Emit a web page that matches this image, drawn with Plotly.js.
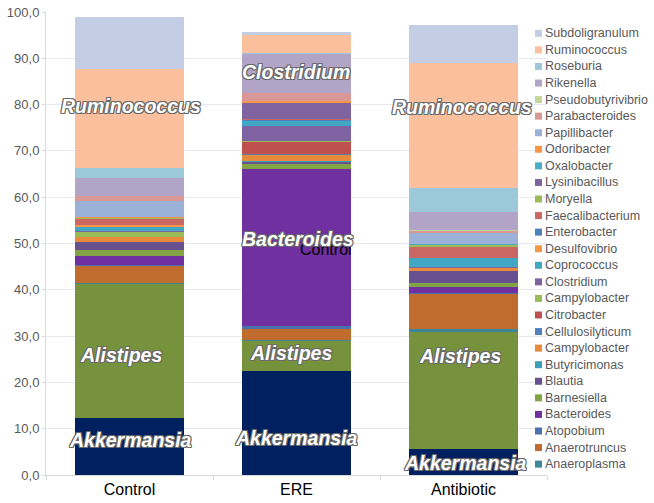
<!DOCTYPE html>
<html>
<head>
<meta charset="utf-8">
<script src="https://cdn.plot.ly/plotly-3.0.1.min.js"></script>
<style>html,body{margin:0;padding:0;background:#fff;}#chart{width:654px;height:503px;}</style>
</head>
<body>
<div id="chart"></div>
<script>
// Categories
const groups = ['Control', 'ERE', 'Antibiotic'];
const yTicks = [0, 10, 20, 30, 40, 50, 60, 70, 80, 90, 100];

// Series values [Control, ERE, Antibiotic] (percent), stacked bottom -> top
const akkermansia        = [12.4, 22.5, 5.6];
const alistipes          = [28.8, 6.5, 25.2];
const anaeroplasma       = [0.3, 0.1, 0.7];
const anaerotruncus      = [3.7, 2.5, 7.5];
const atopobium          = [0.2, 0.5, 0.4];
const bacteroides        = [1.9, 33.9, 1.1];
const barnesiella        = [1.4, 1.1, 0.9];
const blautia            = [1.6, 0.6, 2.7];
const butyricimonas      = [0.1, 0.1, 0.0];
const campylobacterO     = [0.9, 1.4, 0.6];
const cellulosilyticum   = [0.1, 0.2, 0.0];
const citrobacter        = [0.1, 2.5, 0.05];
const campylobacterG     = [0.9, 0.2, 0.05];
const clostridium        = [0.2, 3.2, 0.1];
const coprococcus        = [0.9, 1.1, 1.9];
const desulfovibrio      = [0.4, 0.1, 0.05];
const enterobacter       = [0.1, 0.1, 0.05];
const faecalibacterium   = [1.3, 0.2, 2.3];
const moryella           = [0.2, 0.0, 0.5];
const lysinibacillus     = [0.05, 3.6, 0.05];
const oxalobacter        = [0.05, 0.0, 0.05];
const odoribacter        = [0.05, 0.3, 0.05];
const papillibacter      = [3.5, 0.0, 2.5];
const parabacteroides    = [1.1, 1.7, 0.3];
const pseudobutyrivibrio = [0.1, 0.0, 0.2];
const rikenella          = [3.8, 8.6, 4.0];
const roseburia          = [2.1, 0.1, 5.2];
const ruminococcus       = [21.5, 3.9, 27.0];
const subdoligranulum    = [11.1, 0.7, 8.1];

// Series names (bottom -> top), values and colours
const seriesNames = ['Akkermansia','Alistipes','Anaeroplasma','Anaerotruncus','Atopobium','Bacteroides','Barnesiella','Blautia','Butyricimonas','Campylobacter','Cellulosilyticum','Citrobacter','Campylobacter','Clostridium','Coprococcus','Desulfovibrio','Enterobacter','Faecalibacterium','Moryella','Lysinibacillus','Oxalobacter','Odoribacter','Papillibacter','Parabacteroides','Pseudobutyrivibrio','Rikenella','Roseburia','Ruminococcus','Subdoligranulum'];
const seriesValues = [akkermansia, alistipes, anaeroplasma, anaerotruncus, atopobium, bacteroides, barnesiella, blautia, butyricimonas, campylobacterO, cellulosilyticum, citrobacter, campylobacterG, clostridium, coprococcus, desulfovibrio, enterobacter, faecalibacterium, moryella, lysinibacillus, oxalobacter, odoribacter, papillibacter, parabacteroides, pseudobutyrivibrio, rikenella, roseburia, ruminococcus, subdoligranulum];
const seriesColors = ['#00205F','#76923C','#3A8799','#BF6C2E','#4A70AD','#7030A0','#82A444','#69518F','#3AA0B8','#E88A3C','#4F81BD','#C0504D','#9BBB59','#7F62A1','#40A8C4','#F79646','#4F81BD','#CB6763','#9BBB59','#8064A2','#4BACC6','#F79646','#9BB0D6','#D99795','#C4D79B','#B2A4C6','#9CC9DA','#FAC09E','#C3CDE3'];
const legendStart = 2; // legend lists Anaeroplasma .. Subdoligranulum

// Bar labels
const labelTexts = ['Ruminococcus','Alistipes','Akkermansia','Clostridium','Bacteroides','Alistipes','Akkermansia','Ruminococcus','Alistipes','Akkermansia'];
const labelGroups = [0,0,0,1,1,1,1,2,2,2];
const labelY = [79.7, 25.9, 7.6, 87.0, 51.0, 26.4, 7.9, 79.5, 25.6, 2.7];
const labelShift = [1, -9, 1, -1, 1, -6, 0, -2, -4, 2];

const traces = seriesNames.map((name, i) => ({
  type: 'bar',
  name: name,
  x: groups,
  y: seriesValues[i],
  marker: {color: seriesColors[i], line: {width: 0}},
  hoverinfo: 'skip',
  showlegend: false
}));

// geometry helpers (paper coordinates)
const W = 654, H = 503, mL = 46, mR = 107, mT = 12, mB = 28;
const pw = W - mL - mR, ph = H - mT - mB;
const px2x = px => (px - mL) / pw;
const py2y = py => (H - mB - py) / ph;

const annotations = [];
const shapes = [];

// stray text behind the ERE label
annotations.push({
  x: 1, y: 48.6, xref: 'x', yref: 'y', xshift: 29, showarrow: false,
  text: 'Control', font: {family: 'Liberation Sans, Arial, sans-serif', size: 16, color: '#000'}
});

const shadow = '-1px -1px 0 #6a6a6a, 1px -1px 0 #6a6a6a, -1px 1px 0 #6a6a6a, 1px 1px 0 #6a6a6a, 0 1px 0 #6a6a6a, 0 -1px 0 #6a6a6a, 1px 0 0 #6a6a6a, -1px 0 0 #6a6a6a';
labelTexts.forEach((t, i) => {
  annotations.push({
    x: labelGroups[i], y: labelY[i], xref: 'x', yref: 'y', xshift: labelShift[i],
    showarrow: false, text: t,
    font: {family: 'Liberation Sans, Arial, sans-serif', size: 19.5, color: '#ffffff', weight: 'bold', style: 'italic', shadow: shadow}
  });
});

// manual legend (top item = last series)
const legendIdx = [];
for (let i = seriesNames.length - 1; i >= legendStart; i--) legendIdx.push(i);
legendIdx.forEach((si, k) => {
  const cy = 33.3 + k * 16.57;
  shapes.push({
    type: 'rect', xref: 'paper', yref: 'paper',
    x0: px2x(535), x1: px2x(542), y0: py2y(cy + 3.5), y1: py2y(cy - 3.5),
    fillcolor: seriesColors[si], line: {width: 0}, layer: 'above'
  });
  annotations.push({
    x: px2x(543), y: py2y(cy), xref: 'paper', yref: 'paper',
    xanchor: 'left', yanchor: 'middle', showarrow: false,
    text: seriesNames[si],
    font: {family: 'Liberation Sans, Arial, sans-serif', size: 12.5, color: '#595959'}
  });
});

const layout = {
  width: W, height: H,
  margin: {l: mL, r: mR, t: mT, b: mB, pad: 0},
  paper_bgcolor: '#ffffff', plot_bgcolor: '#ffffff',
  barmode: 'stack', bargap: 0.35,
  showlegend: false,
  separators: ',.',
  font: {family: 'Liberation Sans, Arial, sans-serif'},
  xaxis: {
    type: 'category', categoryorder: 'array', categoryarray: groups,
    showgrid: false, showline: true, linecolor: '#D9D9D9', linewidth: 1,
    ticks: 'outside', tickson: 'boundaries', ticklen: 4, tickcolor: '#D9D9D9',
    tickfont: {size: 16, color: '#000000'}, zeroline: false
  },
  yaxis: {
    range: [0, 100], tickvals: yTicks, tickformat: '.1f',
    showgrid: true, gridcolor: '#E6E9F0', gridwidth: 1,
    showline: true, linecolor: '#D9D9D9', linewidth: 1,
    ticks: 'outside', ticklen: 3, tickcolor: '#D9D9D9',
    tickfont: {size: 13, color: '#595959'}, zeroline: false
  },
  annotations: annotations,
  shapes: shapes
};

Plotly.newPlot('chart', traces, layout, {staticPlot: true, displayModeBar: false});
</script>
</body>
</html>
